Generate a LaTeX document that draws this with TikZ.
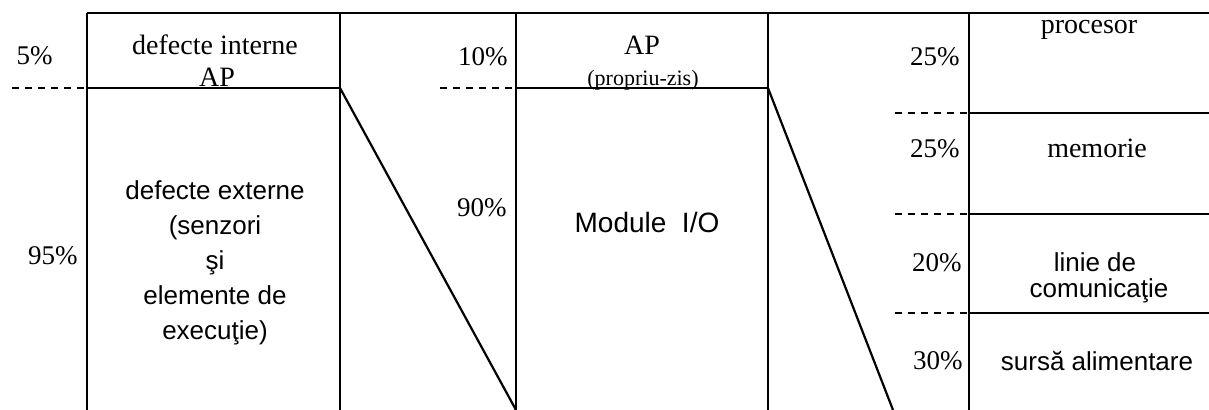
\documentclass[tikz,border=0pt]{standalone}
\usepackage{fontspec}
\setmainfont{Liberation Serif}
\newfontfamily\sansf{Liberation Sans}
\begin{document}
\begin{tikzpicture}[x=0.5pt,y=-0.5pt,
  frame/.style={line width=1.1pt},
  divdash/.style={dash pattern=on 3.5pt off 3pt, line width=0.9pt},
  pct/.style={anchor=base east, inner sep=0pt, font=\fontsize{13.5}{16}\selectfont},
  lbl/.style={anchor=base, inner sep=0pt},
  ser/.style={font=\fontsize{14}{17}\selectfont},
  san/.style={font=\sansf\fontsize{13}{16}\selectfont}]
\useasboundingbox (0,0) rectangle (1209,410);
% frame coordinates
\coordinate (b1tl) at (87,13);   \coordinate (b1bl) at (87,410);
\coordinate (b1tr) at (340,13);  \coordinate (b1br) at (340,410);
\coordinate (b1dl) at (87,88);   \coordinate (b1dr) at (340,88);
\coordinate (d1s)  at (12,88);
\coordinate (b2tl) at (516,13);  \coordinate (b2bl) at (516,410);
\coordinate (b2tr) at (768,13);  \coordinate (b2br) at (768,410);
\coordinate (b2dl) at (516,88);  \coordinate (b2dr) at (768,88);
\coordinate (d2s)  at (440,88);
\coordinate (g2e)  at (893,410);
\coordinate (b3tl) at (969,13);  \coordinate (b3bl) at (969,410);
\coordinate (tr)   at (1209,13);
\coordinate (c1l) at (969,113);  \coordinate (c1r) at (1209,113); \coordinate (c1s) at (895,113);
\coordinate (c2l) at (969,214);  \coordinate (c2r) at (1209,214); \coordinate (c2s) at (895,214);
\coordinate (c3l) at (969,313);  \coordinate (c3r) at (1209,313); \coordinate (c3s) at (895,313);
% frame lines
\draw[frame] (b1tl) -- (tr);
\draw[frame] (b1tl) -- (b1bl);
\draw[frame] (b1tr) -- (b1br);
\draw[frame] (b2tl) -- (b2bl);
\draw[frame] (b2tr) -- (b2br);
\draw[frame] (b3tl) -- (b3bl);
\draw[frame] (b1dl) -- (b1dr);
\draw[frame] (b2dl) -- (b2dr);
\draw[frame] (c1l) -- (c1r);
\draw[frame] (c2l) -- (c2r);
\draw[frame] (c3l) -- (c3r);
% dashed extensions
\draw[divdash] (d1s) -- (b1dl);
\draw[divdash] (d2s) -- (b2dl);
\draw[divdash] (c1s) -- (c1l);
\draw[divdash] (c2s) -- (c2l);
\draw[divdash] (c3s) -- (c3l);
% diagonals
\draw[frame] (b1dr) -- (b2bl);
\draw[frame] (b2dr) -- (g2e);
% column 1
\node[pct] (p5) at (53,65) {5\%};
\node[lbl,ser] (di1) at (215,55) {defecte interne};
\node[lbl,ser] (di2) at (217,87) {AP};
\node[pct] (p95) at (78,265) {95\%};
\node[lbl,san] (de1) at (215,200) {defecte externe};
\node[lbl,san] (de2) at (215,235) {(senzori};
\node[lbl,san] (de3) at (215,270) {şi};
\node[lbl,san] (de4) at (215,305) {elemente de};
\node[lbl,san] (de5) at (215,340) {execuţie)};
% column 2
\node[pct] (p10) at (508,66) {10\%};
\node[lbl,font=\fontsize{14}{17}\selectfont] (ap) at (642,55) {AP};
\node[lbl,font=\fontsize{11}{13}\selectfont] (pz) at (643,86) {(propriu-zis)};
\node[pct] (p90) at (507,217) {90\%};
\node[lbl,san,font=\sansf\fontsize{14}{17}\selectfont] (mio) at (647,233) {Module\ \ I/O};
% column 3
\node[pct] (p25a) at (960,66) {25\%};
\node[lbl,ser] (proc) at (1089,34) {procesor};
\node[pct] (p25b) at (960,158) {25\%};
\node[lbl,ser] (mem) at (1097,158) {memorie};
\node[pct] (p20) at (962,272) {20\%};
\node[lbl,san] (lin1) at (1095,272) {linie de};
\node[lbl,san] (lin2) at (1099,298) {comunicaţie};
\node[pct] (p30) at (963,370) {30\%};
\node[lbl,san] (surs) at (1097,371) {sursă alimentare};
\end{tikzpicture}
\end{document}
